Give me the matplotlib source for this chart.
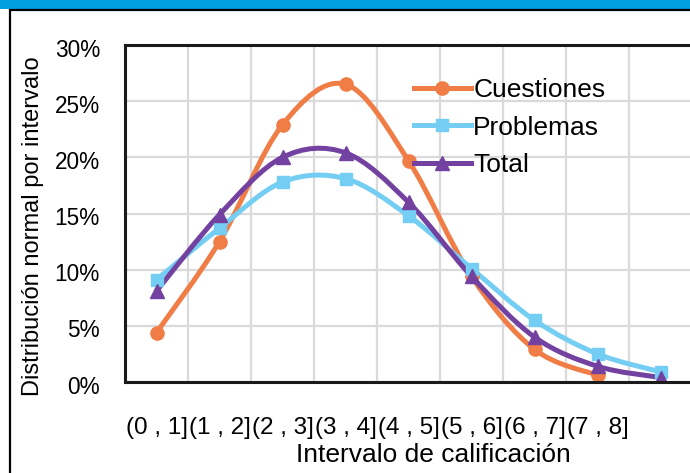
import numpy as np
import matplotlib
matplotlib.use("Agg")
import matplotlib.pyplot as plt
import matplotlib.transforms as mtransforms
from matplotlib.path import Path
from matplotlib.patches import PathPatch, Rectangle
from matplotlib.lines import Line2D
from matplotlib.ticker import FixedLocator, PercentFormatter

plt.rcParams['font.family'] = ['Liberation Sans', 'DejaVu Sans']

# datos (porcentaje por intervalo)
categorias = ["(0 , 1]", "(1 , 2]", "(2 , 3]", "(3 , 4]",
              "(4 , 5]", "(5 , 6]", "(6 , 7]", "(7 , 8]"]
cuestiones = [4.4, 12.5, 22.9, 26.5, 19.7, 9.4, 2.9, 0.6]
problemas = [9.1, 13.7, 17.8, 18.1, 14.8, 10.1, 5.5, 2.5, 0.9]
total = [8.1, 14.9, 20.0, 20.4, 16.0, 9.4, 4.0, 1.4, 0.4]

nombres = ["Cuestiones", "Problemas", "Total"]
colores = ["#EF7D45", "#74CDF2", "#7342A0"]
marcadores = ["o", "s", "^"]
n_cat = 9


def smooth_path(y):
    # curva suave tipo excel (bezier catmull-rom) a traves de los puntos
    x = np.arange(len(y), dtype=float)
    pts = np.column_stack([x, np.asarray(y, dtype=float)])
    verts = [pts[0]]
    codes = [Path.MOVETO]
    for i in range(len(pts) - 1):
        p0 = pts[max(i - 1, 0)]
        p1 = pts[i]
        p2 = pts[i + 1]
        p3 = pts[min(i + 2, len(pts) - 1)]
        c1 = p1 + (p2 - p0) / 6.0
        c2 = p2 - (p3 - p1) / 6.0
        verts += [c1, c2, p2]
        codes += [Path.CURVE4] * 3
    return Path(verts, codes)


fig = plt.figure(figsize=(6.9, 4.73), dpi=100)

# barra azul superior y marco negro
fig.patches.append(Rectangle((0, 1 - 9 / 473), 1, 9 / 473, transform=fig.transFigure,
                             facecolor="#009FE0", edgecolor="none", zorder=0))
fig.patches.append(Rectangle((10 / 690, -0.1), 1.2, 1 - 10 / 473 + 0.1, transform=fig.transFigure,
                             facecolor="none", edgecolor="black", linewidth=1.6, zorder=1))

ax = fig.add_axes([125 / 690, 91 / 473, 567 / 690, 337 / 473])
ax.set_xlim(-0.5, n_cat - 0.5)
ax.set_ylim(0, 30)

ax.set_xticks(range(len(categorias)))
ax.set_xticklabels(categorias)
ax.xaxis.set_minor_locator(FixedLocator(np.arange(-0.5, n_cat, 1.0)))
ax.set_yticks(range(0, 31, 5))
ax.yaxis.set_major_formatter(PercentFormatter(decimals=0))
ax.tick_params(axis="both", which="both", length=0)
ax.tick_params(axis="x", labelsize=17.5, pad=25)
ax.tick_params(axis="y", labelsize=16.3, pad=18)
ax.grid(axis="x", which="minor", color="#DADADA", linewidth=1.6)
ax.grid(axis="y", which="major", color="#DADADA", linewidth=1.6)
ax.set_axisbelow(True)

# las etiquetas del eje y quedan un poco por debajo de la rejilla
off = mtransforms.ScaledTranslation(0, -2.5 / 100, fig.dpi_scale_trans)
for lab in ax.get_yticklabels():
    lab.set_transform(lab.get_transform() + off)

for s in ["left", "top", "bottom"]:
    ax.spines[s].set_linewidth(2.2)
    ax.spines[s].set_color("#1A1A1A")
ax.spines["right"].set_visible(False)

handles = []
for serie, nombre, col, mk in zip([cuestiones, problemas, total], nombres, colores, marcadores):
    ax.add_patch(PathPatch(smooth_path(serie), facecolor="none", edgecolor=col,
                           linewidth=3.6, capstyle="round", joinstyle="round"))
    ms = 9.5 if mk != "s" else 8.5
    ax.plot(range(len(serie)), serie, linestyle="none", marker=mk, markersize=ms,
            color=col, markeredgecolor=col)
    handles.append(Line2D([], [], color=col, linewidth=3.6, marker=mk, markersize=ms))

ax.legend(handles, nombres, loc="upper left", bbox_to_anchor=(0.491, 0.933),
          frameon=False, fontsize=19, handlelength=2.15, handletextpad=0.1,
          labelspacing=0.51, borderaxespad=0)

ax.set_xlabel("Intervalo de calificación", fontsize=19)
ax.xaxis.label.set_va("center")
ax.xaxis.set_label_coords((433 - 125) / 567, -(455 - 382) / 337)
ax.set_ylabel("Distribución normal por intervalo", fontsize=17)
ax.yaxis.label.set_va("center")
ax.yaxis.set_label_coords((33 - 125) / 567, (382 - 226) / 337)

fig.savefig("out.png", dpi=100)
